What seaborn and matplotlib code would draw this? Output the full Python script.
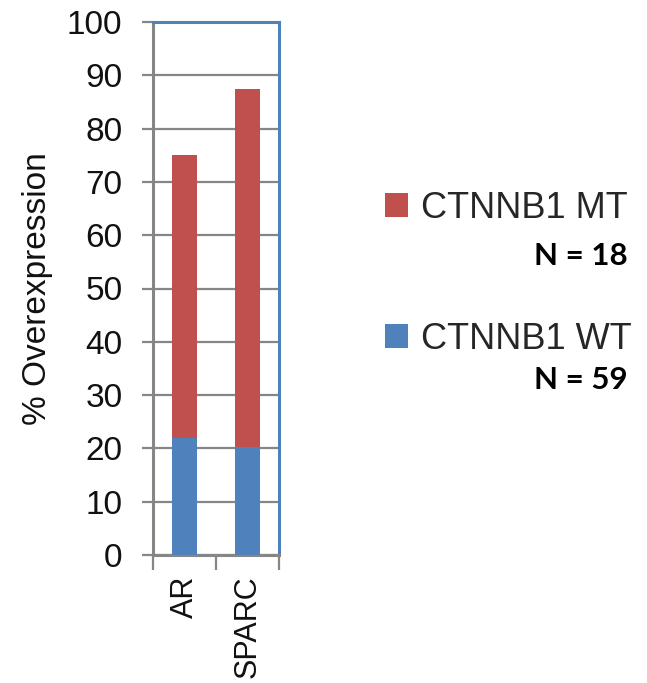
import matplotlib
matplotlib.use("Agg")
import matplotlib.pyplot as plt
import seaborn as sns
from matplotlib.patches import Patch

# Percent of samples with overexpression, by CTNNB1 status
genes = ["AR", "SPARC"]
mt_pct = [75.0, 87.5]
wt_pct = [22.0, 20.3]
groups = ["CTNNB1 MT", "CTNNB1 WT"]
group_n = [18, 59]
y_ticks = list(range(0, 101, 10))

RED = "#C0504D"
BLUE = "#4F81BD"
GRID = "#868686"

sns.set_theme(style="white")
plt.rcParams["font.family"] = ["Liberation Sans", "DejaVu Sans"]

W, H = 647, 683
fig = plt.figure(figsize=(W / 100, H / 100), dpi=100)
ax = fig.add_axes([153 / W, 1 - 555 / H, 126 / W, 533 / H])

# mutant bar behind, wild-type bar in front
sns.barplot(x=genes, y=mt_pct, color=RED, saturation=1, width=0.41, ax=ax,
            zorder=2, linewidth=0, edgecolor="none")
sns.barplot(x=genes, y=wt_pct, color=BLUE, saturation=1, width=0.41, ax=ax,
            zorder=3, linewidth=0, edgecolor="none")

ax.set_ylim(0, 100)
ax.set_xlim(-0.5, 1.5)
ax.set_yticks(y_ticks)
ax.set_yticklabels([str(v) for v in y_ticks], fontsize=24, color="#111111")
ax.yaxis.grid(True, color=GRID, linewidth=1.6)
ax.xaxis.grid(False)
ax.set_axisbelow(True)

# category separators as major ticks, names as minor ticks
ax.set_xticks([-0.5, 0.5, 1.5])
ax.set_xticklabels([])
ax.set_xticks([0, 1], minor=True)
ax.set_xticklabels(genes, minor=True, rotation=90, fontsize=22, color="#111111")
ax.tick_params(axis="x", which="major", length=11, width=1.6, color=GRID, direction="out", bottom=True)
ax.tick_params(axis="x", which="minor", length=0, pad=15, bottom=True)
ax.tick_params(axis="y", which="major", length=8, width=1.6, color=GRID, direction="out", pad=14, left=True)

for side in ["left", "bottom"]:
    ax.spines[side].set_color(GRID)
    ax.spines[side].set_linewidth(2.2)
for side in ["top", "right"]:
    ax.spines[side].set_color(BLUE)
    ax.spines[side].set_linewidth(2.2)

ax.set_xlabel("")
ax.set_ylabel("% Overexpression", fontsize=24, color="#111111", labelpad=10)

handles = [Patch(facecolor=RED, edgecolor="none"), Patch(facecolor=BLUE, edgecolor="none")]
ax.legend(handles, groups, loc="upper left", bbox_to_anchor=(385 / W, 1 - 191 / H),
          bbox_transform=fig.transFigure, frameon=False, fontsize=26,
          handlelength=0.65, handleheight=0.65, handletextpad=0.35,
          labelspacing=2.65, borderpad=0, borderaxespad=0)

for n, yc in zip(group_n, [256, 380]):
    fig.text(628 / W, 1 - yc / H, f"N = {n}", ha="right", va="center",
             fontsize=22.5, fontweight="bold", color="black", family=["Lato", "DejaVu Sans"])

fig.savefig("out.png", dpi=100)
